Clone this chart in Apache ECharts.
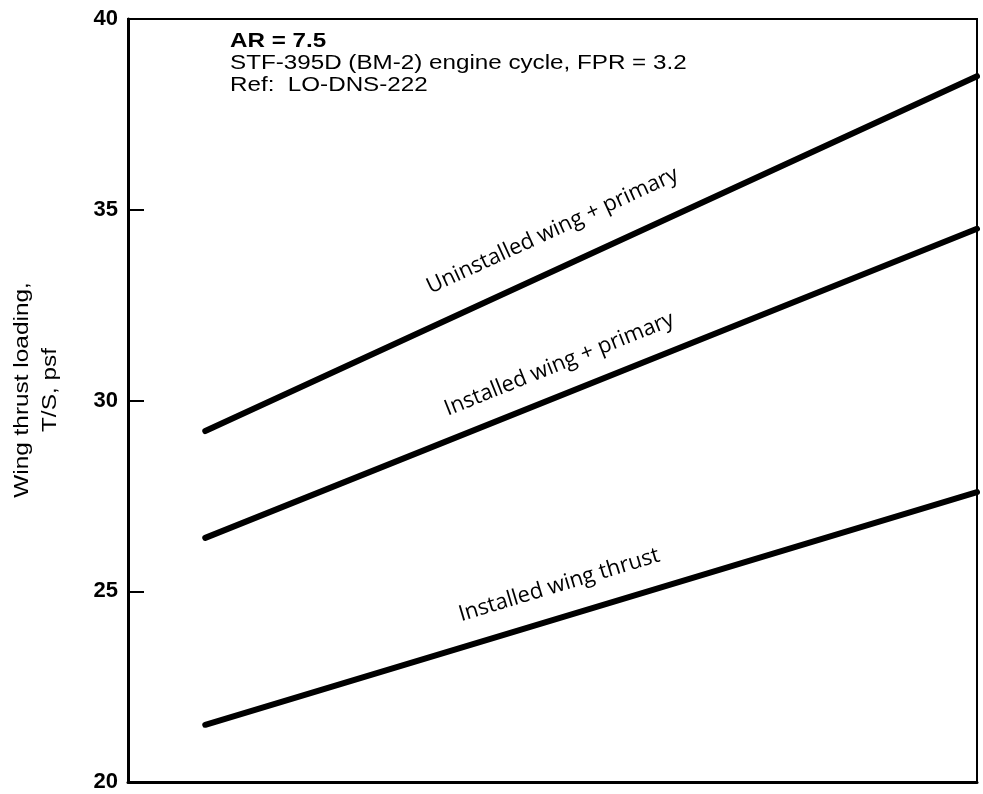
<!DOCTYPE html>
<html>
<head>
<meta charset="utf-8">
<script src="https://cdn.jsdelivr.net/npm/echarts@6/dist/echarts.min.js"></script>
<style>
html,body{margin:0;padding:0;background:#fff;}
#chart{width:983px;height:794px;}
</style>
</head>
<body>
<div id="chart"></div>
<script>
// ---- data ----
const xPositions = [9.1, 100];
const uninstalledWingPrimary = [29.2, 38.5];
const installedWingPrimary = [26.4, 34.5];
const installedWingThrust = [21.5, 27.6];
const seriesNames = ['Uninstalled wing + primary', 'Installed wing + primary', 'Installed wing thrust'];
const yTickLabels = [20, 25, 30, 35, 40];
const yAxisTitle = 'Wing thrust loading,\nT/S, psf';
const notes = ['AR = 7.5', 'STF-395D (BM-2) engine cycle, FPR = 3.2', 'Ref:  LO-DNS-222'];

// label anchor points (data coordinates) for curve labels
const labelAnchors = [[50.0, 34.45], [50.8, 30.95], [50.8, 25.16]];

const seriesValues = [uninstalledWingPrimary, installedWingPrimary, installedWingThrust];

const chart = echarts.init(document.getElementById('chart'), null, {renderer: 'canvas'});

const series = seriesValues.map((vals, i) => ({
  name: seriesNames[i],
  type: 'line',
  data: vals.map((v, j) => [xPositions[j], v]),
  symbol: 'none',
  lineStyle: {color: '#000', width: 6, cap: 'round'},
  clip: true,
  silent: true,
  animation: false
}));

chart.setOption({
  animation: false,
  backgroundColor: '#fff',
  grid: {
    left: 128, right: 6, top: 19, bottom: 12,
    show: true, borderColor: '#000', borderWidth: 2, backgroundColor: 'transparent'
  },
  xAxis: {
    type: 'value', min: 0, max: 100,
    axisLine: {show: true, lineStyle: {color: '#000', width: 3}},
    axisTick: {show: false}, axisLabel: {show: false}, splitLine: {show: false}
  },
  yAxis: {
    type: 'value', min: yTickLabels[0], max: yTickLabels[yTickLabels.length - 1], interval: 5,
    axisLine: {show: true, lineStyle: {color: '#000', width: 3}},
    axisTick: {show: true, inside: true, length: 16, lineStyle: {color: '#000', width: 2}},
    axisLabel: {color: '#000', fontSize: 22, fontWeight: 'bold', fontFamily: 'Liberation Sans', margin: 10},
    splitLine: {show: false}
  },
  series: series
});

function buildGraphics() {
  const els = [];
  // y axis title
  els.push({
    type: 'text', x: 36, y: 390, rotation: Math.PI / 2, scaleX: 1.22,
    style: {text: yAxisTitle, fontSize: 20, fontFamily: 'Liberation Sans', fill: '#000',
      align: 'center', verticalAlign: 'middle', lineHeight: 28}
  });
  // notes
  notes.forEach((t, i) => {
    els.push({
      type: 'text', x: 230, y: 41 + i * 22, scaleX: 1.21,
      style: {text: t, fontSize: 20, fontFamily: 'Liberation Sans', fill: '#000',
        fontWeight: i === 0 ? 'bold' : 'normal',
        align: 'left', verticalAlign: 'middle'}
    });
  });
  // curve labels
  seriesValues.forEach((vals, i) => {
    const p0 = chart.convertToPixel({gridIndex: 0}, [xPositions[0], vals[0]]);
    const p1 = chart.convertToPixel({gridIndex: 0}, [xPositions[1], vals[1]]);
    const ang = Math.atan2(p0[1] - p1[1], p1[0] - p0[0]);
    const c = chart.convertToPixel({gridIndex: 0}, labelAnchors[i]);
    els.push({
      type: 'text', x: c[0], y: c[1], rotation: ang,
      style: {text: seriesNames[i], fontSize: 22, fontFamily: 'Open Sans', fill: '#000',
        align: 'center', verticalAlign: 'middle'}
    });
  });
  chart.setOption({graphic: {elements: els}});
}
buildGraphics();
</script>
</body>
</html>
